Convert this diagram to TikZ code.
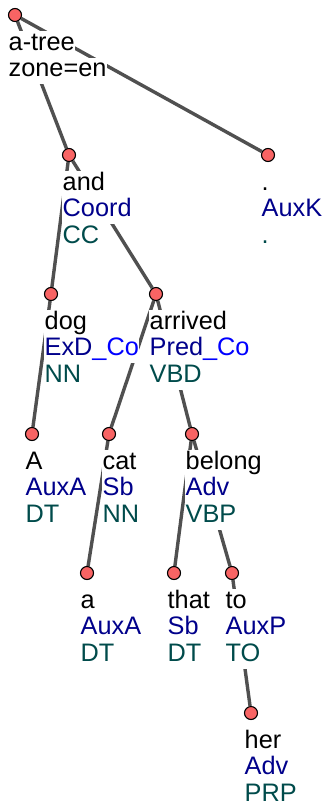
\documentclass[tikz,border=0pt]{standalone}
\usepackage{fontspec}
\setmainfont{Liberation Sans}
\usetikzlibrary{backgrounds}
\pgfdeclarelayer{bottom}
\pgfdeclarelayer{background}
\pgfsetlayers{bottom,background,main}
\definecolor{afun}{RGB}{0,0,139}
\definecolor{member}{RGB}{0,0,255}
\definecolor{tagc}{RGB}{0,75,75}
\definecolor{edgec}{RGB}{80,80,80}
\definecolor{dotc}{RGB}{248,100,100}
\tikzset{
  lbl/.style={anchor=base west, inner xsep=0.5pt, inner ysep=0pt, text height=19pt, text depth=7.5pt, fill=white, font=\fontsize{25.3}{26}\selectfont},
  tnode/.style={circle, draw=black, line width=1.1pt, fill=dotc, minimum size=13pt, inner sep=0pt},
  treeedge/.style={draw=edgec, line width=3.4pt}
}
\newcommand\treenode[6]{%
  \node[lbl] (#1-a) at (#2-7,#3+35) {#4};
  \node[lbl, text=afun] (#1-b) at (#2-7,#3+61.5) {#5};
  \node[lbl, text=tagc] (#1-c) at (#2-7,#3+88) {#6};
  \node[tnode] (#1) at (#2,#3) {};
}
\begin{document}
\begin{tikzpicture}[x=1pt,y=-1pt]
\begin{pgfonlayer}{bottom}
\fill[white] (0,0) rectangle (327,811);
\end{pgfonlayer}
\useasboundingbox (0,0) rectangle (327,811);
% root
\node[lbl] (root-a) at (15-7,15+35) {a-tree};
\node[lbl] (root-b) at (15-7,15+61.5) {zone=en};
\node[tnode] (root) at (15,15) {};
\treenode{and}{69}{155}{and}{Coord}{CC}
\treenode{dot}{268}{155}{.}{AuxK}{.}
\treenode{dog}{51}{294}{dog}{ExD\textcolor{member}{\_Co}}{NN}
\treenode{arrived}{156}{294}{arrived}{Pred\textcolor{member}{\_Co}}{VBD}
\treenode{A}{32}{434}{A}{AuxA}{DT}
\treenode{cat}{109}{434}{cat}{Sb}{NN}
\treenode{belong}{192}{434}{belong}{Adv}{VBP}
\treenode{a}{87}{573}{a}{AuxA}{DT}
\treenode{that}{174}{573}{that}{Sb}{DT}
\treenode{to}{232}{573}{to}{AuxP}{TO}
\treenode{her}{251}{713}{her}{Adv}{PRP}
\begin{pgfonlayer}{background}
\draw[treeedge] (root) -- (and);
\draw[treeedge] (root) -- (dot);
\draw[treeedge] (and) -- (dog);
\draw[treeedge] (and) -- (arrived);
\draw[treeedge] (dog) -- (A);
\draw[treeedge] (arrived) -- (cat);
\draw[treeedge] (arrived) -- (belong);
\draw[treeedge] (cat) -- (a);
\draw[treeedge] (belong) -- (that);
\draw[treeedge] (belong) -- (to);
\draw[treeedge] (to) -- (her);
\end{pgfonlayer}
\end{tikzpicture}
\end{document}
